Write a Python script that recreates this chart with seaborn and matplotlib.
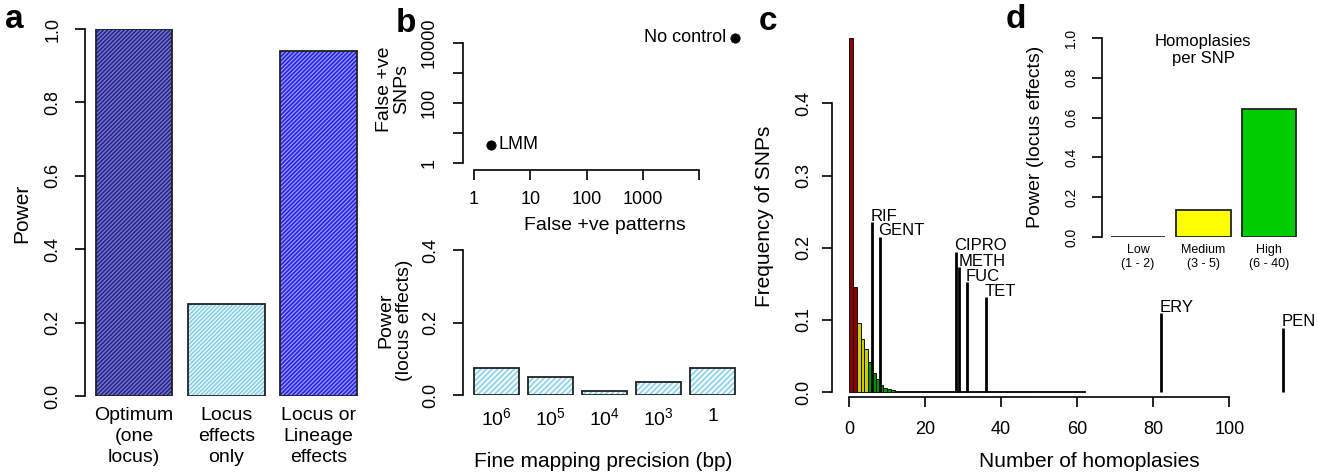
import numpy as np
import pandas as pd
import matplotlib
matplotlib.use('Agg')
import matplotlib.pyplot as plt
import seaborn as sns

# ---- data ----
# a: power of each approach
a_labels = ['Optimum\n(one\nlocus)', 'Locus\neffects\nonly', 'Locus or\nLineage\neffects']
a_power = [1.0, 0.25, 0.94]

# b (top): false positives
b_methods = ['LMM', 'No control']
b_fp_patterns = [2, 43000]
b_fp_snps = [4, 15000]

# b (bottom): power vs fine mapping precision
b_precision = ['$10^6$', '$10^5$', '$10^4$', '$10^3$', '1']
b_power = [0.075, 0.05, 0.012, 0.037, 0.075]

# c: distribution of homoplasies per SNP
c_homoplasies = list(range(1, 63))
c_freq = [0.49, 0.145, 0.095, 0.074, 0.060, 0.042, 0.027, 0.018, 0.010, 0.006,
          0.004, 0.003, 0.002, 0.0015, 0.001, 0.001, 0.001, 0.001, 0.001, 0.001,
          0.001, 0.0015, 0.002, 0.002, 0.0015, 0.001, 0.001, 0.001, 0.001, 0.001,
          0.001, 0.001, 0.001, 0.001, 0.001, 0.001, 0.001, 0.001, 0.001, 0.001,
          0.001, 0.001, 0.001, 0.001, 0.001, 0.001, 0.001, 0.001, 0.001, 0.001,
          0.001, 0.001, 0.001, 0.001, 0.001, 0.001, 0.001, 0.001, 0.001, 0.001,
          0.001, 0.001]
c_drugs = ['RIF', 'GENT', 'CIPRO', 'METH', 'FUC', 'TET', 'ERY', 'PEN']
c_drug_homoplasies = [6, 8, 28, 29, 31, 36, 82, 114]
c_drug_label_height = [0.235, 0.215, 0.194, 0.173, 0.152, 0.131, 0.109, 0.089]

# d: power by homoplasy class
d_groups = ['Low\n(1 - 2)', 'Medium\n(3 - 5)', 'High\n(6 - 40)']
d_power = [0.0, 0.136, 0.643]

sns.set_style('ticks')
plt.rcParams['font.family'] = ['Liberation Sans', 'DejaVu Sans']
plt.rcParams['mathtext.default'] = 'regular'
plt.rcParams['hatch.linewidth'] = 1.2
plt.rcParams['axes.linewidth'] = 1.2
for k in ['text.color', 'axes.labelcolor', 'xtick.color', 'ytick.color', 'axes.edgecolor']:
    plt.rcParams[k] = 'black'

W, H = 1318, 473
fig = plt.figure(figsize=(W / 100, H / 100), dpi=100)


def px_axes(left, top, right, bottom):
    ax = fig.add_axes([left / W, 1 - bottom / H, (right - left) / W, (bottom - top) / H])
    ax.patch.set_alpha(0)
    return ax


def ftext(x, y, s, **kw):
    fig.text(x / W, 1 - y / H, s, **kw)


def r_style(ax, ylabpad=10):
    sns.despine(ax=ax, bottom=True)
    ax.tick_params(axis='y', labelrotation=90, length=7, width=1.2, pad=ylabpad, labelsize=13)
    ax.set_xlabel('')
    ax.set_ylabel('')


def hatched_bars(ax, labels, values, faces, hatch_cols, hatch, width):
    df = pd.DataFrame({'lab': labels, 'val': values})
    sns.barplot(data=df, x='lab', y='val', hue='lab', palette=faces, legend=False,
                width=width, linewidth=0, saturation=1, ax=ax)
    for p, hc in zip(ax.patches, hatch_cols):
        p.set_hatch(hatch)
        p.set_edgecolor(hc)
    sns.barplot(data=df, x='lab', y='val', fill=False, color='#222222',
                width=width, linewidth=1.3, ax=ax)


# ---- panel a ----
ax = px_axes(85, 29, 365, 396)
hatched_bars(ax, a_labels, a_power,
             ['#7c7cd2', '#f2fbfe', '#9c9cff'],
             ['#26268a', '#86cfe8', '#2424e6'], '////////', 0.83)
ax.set_xlim(-0.53, 2.5)
ax.set_ylim(0, 1.0)
r_style(ax)
ax.set_yticks([0, 0.2, 0.4, 0.6, 0.8, 1.0])
ax.set_yticklabels(['0.0', '0.2', '0.4', '0.6', '0.8', '1.0'], rotation=90, va='center')
ax.tick_params(axis='x', length=0, pad=8, labelsize=14)
for t in ax.get_xticklabels():
    t.set_linespacing(1.3)
ftext(22, 213, 'Power', rotation=90, ha='center', va='center', fontsize=15)
ftext(14, 20, 'a', fontsize=24, fontweight='bold', ha='center', va='center')

# ---- panel b (top) ----
ax = px_axes(463, 30, 745, 170)
sns.scatterplot(x=b_fp_patterns, y=b_fp_snps, color='black', s=45, edgecolor='black',
                clip_on=False, zorder=5, ax=ax)
ax.set_xscale('log')
ax.set_yscale('log')
ax.set_xlim(10 ** -0.195, 10 ** 4.81)
ax.set_ylim(10 ** -0.233, 10 ** 4.43)
sns.despine(ax=ax, offset=0)
ax.spines['left'].set_bounds(1, 10000)
ax.spines['bottom'].set_bounds(1, 10000)
ax.set_xticks([1, 10, 100, 1000, 10000])
ax.set_xticklabels(['1', '10', '100', '1000', ''])
ax.set_yticks([1, 10, 100, 1000, 10000])
ax.set_yticklabels(['1', '', '100', '', '10000'], rotation=90, va='center')
ax.minorticks_off()
ax.tick_params(axis='both', length=7, width=1.2, labelsize=13)
ax.tick_params(axis='y', pad=11)
ax.tick_params(axis='x', pad=8)
ax.text(b_fp_patterns[0] * 1.35, b_fp_snps[0], b_methods[0], ha='left', va='center', fontsize=13)
ax.text(b_fp_patterns[1] / 1.45, b_fp_snps[1], b_methods[1], ha='right', va='center', fontsize=13)
ftext(393, 89, 'False +ve\nSNPs', rotation=90, ha='center', va='center', fontsize=14,
      linespacing=1.05)
ftext(605, 225, 'False +ve patterns', ha='center', va='center', fontsize=14)
ftext(406, 24, 'b', fontsize=24, fontweight='bold', ha='center', va='center')

# ---- panel b (bottom) ----
ax = px_axes(463, 250, 740, 395)
hatched_bars(ax, b_precision, b_power, ['#f2fbfe'] * 5, ['#8ed2ea'] * 5, '//////', 0.84)
ax.set_xlim(-0.62, 4.51)
ax.set_ylim(0, 0.4)
r_style(ax)
ax.set_yticks([0, 0.2, 0.4])
ax.set_yticklabels(['0.0', '0.2', '0.4'], rotation=90, va='center')
ax.tick_params(axis='x', length=0, pad=9, labelsize=14)
ftext(395, 320, 'Power\n(locus effects)', rotation=90, ha='center', va='center', fontsize=14,
      linespacing=1.1)
ftext(603, 461, 'Fine mapping precision (bp)', ha='center', va='center', fontsize=15)

# ---- panel c ----
ax = px_axes(832, 24, 1300, 397)
cdf = pd.DataFrame({'hom': c_homoplasies, 'freq': c_freq})
cdf['mid'] = cdf['hom'] - 0.5
groups = [(cdf['hom'] <= 2, '#8B0000'),
          ((cdf['hom'] >= 3) & (cdf['hom'] <= 5), '#CDCD00'),
          ((cdf['hom'] >= 6) & (cdf['hom'] <= 40), '#009400'),
          (cdf['hom'] > 40, '#ffffff')]
for mask, col in groups:
    sub = cdf[mask]
    sns.histplot(data=sub, x='mid', weights='freq', binwidth=1,
                 binrange=(int(sub['hom'].min()) - 1, int(sub['hom'].max())),
                 color=col, alpha=1, edgecolor='#111111', linewidth=0.7, ax=ax)
ax.vlines(c_drug_homoplasies, 0, c_drug_label_height, color='black', lw=2, clip_on=False)
for name, x, h in zip(c_drugs, c_drug_homoplasies, c_drug_label_height):
    ax.text(x - 0.3, h - 0.002, name, ha='left', va='bottom', fontsize=12, clip_on=False)
ax.set_xlim(-4.5, 118.6)
ax.set_ylim(-0.0069, 0.51)
sns.despine(ax=ax)
ax.spines['left'].set_bounds(0, 0.4)
ax.spines['bottom'].set_bounds(0, 100)
ax.set_xticks([0, 20, 40, 60, 80, 100])
ax.set_yticks([0, 0.1, 0.2, 0.3, 0.4])
ax.set_yticklabels(['0.0', '0.1', '0.2', '0.3', '0.4'], rotation=90, va='center')
ax.tick_params(axis='both', length=7, width=1.2, labelsize=13)
ax.tick_params(axis='y', pad=7)
ax.tick_params(axis='x', pad=10)
ax.set_xlabel('')
ax.set_ylabel('')
ftext(765, 216, 'Frequency of SNPs', rotation=90, ha='center', va='center', fontsize=15)
ftext(1089, 461, 'Number of homoplasies', ha='center', va='center', fontsize=15)
ftext(768, 22, 'c', fontsize=24, fontweight='bold', ha='center', va='center')

# ---- panel d (inset) ----
ax = px_axes(1102, 38, 1300, 237)
ddf = pd.DataFrame({'grp': d_groups, 'power': d_power})
sns.barplot(data=ddf, x='grp', y='power', hue='grp',
            palette=['#ffffff', '#FFFF00', '#00CD00'], legend=False, saturation=1,
            width=0.83, edgecolor='#222222', linewidth=1.3, ax=ax)
ax.set_xlim(-0.55, 2.47)
ax.set_ylim(0, 1.0)
r_style(ax, ylabpad=10)
ax.set_yticks([0, 0.2, 0.4, 0.6, 0.8, 1.0])
ax.set_yticklabels(['0.0', '0.2', '0.4', '0.6', '0.8', '1.0'], rotation=90, va='center')
ax.tick_params(axis='y', labelsize=10)
ax.tick_params(axis='x', length=0, pad=5, labelsize=9)
ftext(1036, 137, 'Power (locus effects)', rotation=90, ha='center', va='center', fontsize=14)
ftext(1203, 50, 'Homoplasies\nper SNP', ha='center', va='center', fontsize=12, linespacing=1.15)
ftext(1016, 20, 'd', fontsize=24, fontweight='bold', ha='center', va='center')

fig.savefig('out.png', dpi=100)
